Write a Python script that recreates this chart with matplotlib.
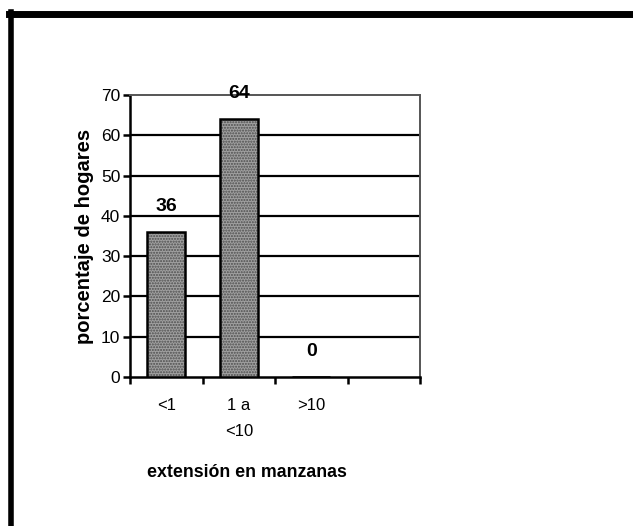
import matplotlib.pyplot as plt
from matplotlib.lines import Line2D

plt.rcParams['font.family'] = ['Liberation Sans', 'DejaVu Sans']

# Data
categories = ['<1', '1 a\n<10', '>10', '']
values = [36, 64, 0]
yticks = [0, 10, 20, 30, 40, 50, 60, 70]

fig = plt.figure(figsize=(6.33, 5.26), dpi=100)
ax = fig.add_axes([0.2054, 0.2833, 0.4581, 0.5361])

x = list(range(len(values)))
bars = ax.bar(x, values, width=0.53, color='#a0a0a0', edgecolor='black',
              linewidth=1.8, hatch='......', zorder=3)
for b in bars:
    b._hatch_color = (0.3, 0.3, 0.3, 1)

# Value labels above bars
for xi, v in zip(x, values):
    ax.annotate(str(v), (xi, v), xytext=(0, 12), textcoords='offset points',
                ha='center', va='bottom', fontsize=14, fontweight='bold',
                zorder=4)

ax.set_xlim(-0.5, len(categories) - 0.5)
ax.set_ylim(0, 70)
ax.set_yticks(yticks)
ax.set_xticks(range(len(categories)))
ax.set_xticklabels(categories, linespacing=1.9)
ax.set_xticks([i - 0.5 for i in range(len(categories) + 1)], minor=True)
ax.tick_params(axis='x', which='major', length=0, pad=15, labelsize=12)
ax.tick_params(axis='x', which='minor', length=5, width=1.8, direction='out')
ax.tick_params(axis='y', length=5, width=1.8, direction='out', labelsize=12.5,
               pad=2)

# Gridlines
for yv in yticks[1:-1]:
    ax.axhline(yv, color='black', linewidth=1.6, zorder=1)

ax.spines['left'].set_linewidth(1.8)
ax.spines['bottom'].set_linewidth(1.8)
ax.spines['top'].set_linestyle((0, (1, 1)))
ax.spines['top'].set_color('#555555')
ax.spines['top'].set_linewidth(1.4)
ax.spines['right'].set_linestyle((0, (1, 1)))
ax.spines['right'].set_color('#555555')
ax.spines['right'].set_linewidth(1.4)

ax.set_ylabel('porcentaje de hogares', fontsize=14.5, fontweight='bold',
              labelpad=5)
fig.text(0.39, 0.102, 'extensión en manzanas', fontsize=12.8,
         fontweight='bold', ha='center', va='center')

# Scanned page frame
fig.add_artist(Line2D([0.014, 1.0], [0.973, 0.973], color='black',
                      linewidth=5, transform=fig.transFigure))
fig.add_artist(Line2D([0.017, 0.017], [0.0, 0.977], color='black',
                      linewidth=4, transform=fig.transFigure))

plt.savefig('out.png', dpi=100)
